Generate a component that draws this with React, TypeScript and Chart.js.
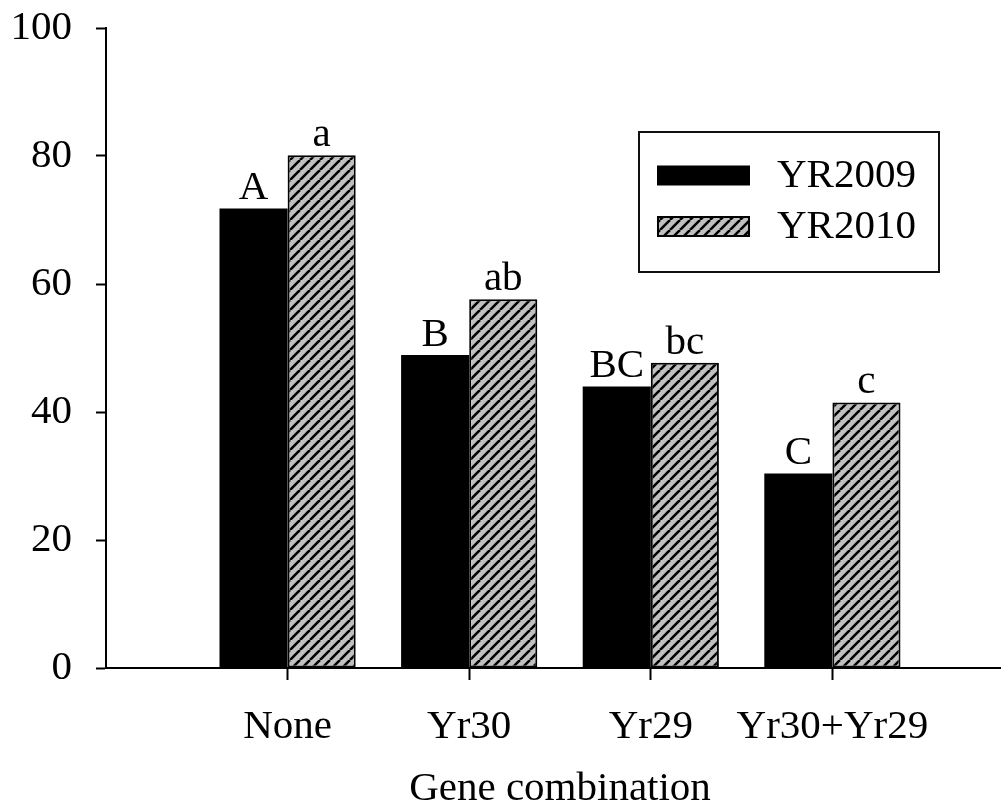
import { useEffect, useRef } from 'react';
import { Chart, registerables } from 'chart.js';
Chart.register(...registerables);

const categories = ['None', 'Yr30', 'Yr29', 'Yr30+Yr29'];
const yr2009 = [71.8, 48.9, 44.0, 30.4];
const yr2010 = [80.1, 57.6, 47.7, 41.5];
const letters2009 = ['A', 'B', 'BC', 'C'];
const letters2010 = ['a', 'ab', 'bc', 'c'];
const seriesNames = ['YR2009', 'YR2010'];
const yMin = 0;
const yMax = 100;
const yStep = 20;
const xTitle = 'Gene combination';

const FONT = '"Liberation Serif", "Times New Roman", serif';
const FS = 41;

function makeHatch(): CanvasPattern | string {
  const size = 10;
  const c = document.createElement('canvas');
  c.width = size;
  c.height = size;
  const g = c.getContext('2d');
  if (!g) return '#c0c0c0';
  g.fillStyle = '#c0c0c0';
  g.fillRect(0, 0, size, size);
  g.strokeStyle = '#000';
  g.lineWidth = 2.6;
  g.beginPath();
  for (const k of [-1, 0, 1]) {
    g.moveTo(k * size, size);
    g.lineTo(k * size + size, 0);
  }
  g.stroke();
  const p = g.createPattern(c, 'repeat');
  return p || '#c0c0c0';
}

export default function App() {
  const ref = useRef<HTMLCanvasElement | null>(null);
  useEffect(() => {
    if (!ref.current) return;
    const hatch = makeHatch();
    const labels = ['', ...categories, ''];
    const letterPlugin = {
      id: 'letters',
      afterDatasetsDraw(chart: any) {
        const ctx = chart.ctx;
        ctx.save();
        ctx.font = `${FS}px ${FONT}`;
        ctx.fillStyle = '#000';
        ctx.textAlign = 'center';
        ctx.textBaseline = 'alphabetic';
        [letters2009, letters2010].forEach((letters, di) => {
          const meta = chart.getDatasetMeta(di);
          letters.forEach((t, i) => {
            const el = meta.data[i + 1];
            if (el) ctx.fillText(t, el.x, el.y - 9);
          });
        });
        ctx.restore();
      },
    };
    const legendPlugin = {
      id: 'boxLegend',
      afterDraw(chart: any) {
        const ctx = chart.ctx;
        const ds = chart.data.datasets;
        ctx.save();
        ctx.lineWidth = 2;
        ctx.strokeStyle = '#111';
        ctx.strokeRect(639, 132, 300, 140);
        const rows = [175.5, 226.5];
        rows.forEach((cy, i) => {
          ctx.fillStyle = ds[i].backgroundColor;
          ctx.fillRect(657, cy - 10, 93, 20);
          if (i === 1) {
            ctx.lineWidth = 2;
            ctx.strokeStyle = '#000';
            ctx.strokeRect(658, cy - 9.5, 91, 19);
          }
          ctx.fillStyle = '#000';
          ctx.font = `${FS}px ${FONT}`;
          ctx.textAlign = 'left';
          ctx.textBaseline = 'middle';
          ctx.fillText(ds[i].label, 777, cy + 1);
        });
        ctx.restore();
      },
    };
    const chart = new Chart(ref.current, {
      type: 'bar',
      data: {
        labels,
        datasets: [
          {
            label: seriesNames[0],
            data: [null, ...yr2009, null],
            backgroundColor: '#000',
            borderWidth: 0,
            categoryPercentage: 0.75,
            barPercentage: 1.0,
          },
          {
            label: seriesNames[1],
            data: [null, ...yr2010, null],
            backgroundColor: hatch as any,
            borderColor: '#000',
            borderWidth: 2,
            borderSkipped: false,
            categoryPercentage: 0.75,
            barPercentage: 1.0,
          },
        ],
      },
      options: {
        animation: false,
        responsive: false,
        maintainAspectRatio: false,
        layout: { padding: { top: 28, left: 0, right: 0, bottom: 0 } },
        plugins: {
          legend: { display: false },
          tooltip: { enabled: false },
          title: { display: false },
        },
        scales: {
          x: {
            type: 'category',
            offset: false,
            grid: {
              offset: false,
              drawOnChartArea: false,
              drawTicks: true,
              tickLength: 12,
              tickWidth: 2,
              tickColor: (c: any) => (c.index === 0 || c.index === labels.length - 1 ? 'rgba(0,0,0,0)' : '#000'),
            },
            border: { display: true, color: '#000', width: 2 },
            ticks: {
              color: '#000',
              font: { family: FONT, size: FS },
              padding: 23,
              maxRotation: 0,
              autoSkip: false,
            },
            title: {
              display: true,
              text: xTitle,
              color: '#000',
              font: { family: FONT, size: FS, lineHeight: 0.9 },
              padding: { top: 0, bottom: 0 },
            },
            afterFit: (s: any) => {
              s.height = 140;
              s.paddingLeft = 0;
              s.paddingRight = 0;
            },
          },
          y: {
            min: yMin,
            max: yMax,
            ticks: {
              stepSize: yStep,
              color: '#000',
              font: { family: FONT, size: FS },
              padding: 24,
            },
            grid: {
              drawOnChartArea: false,
              drawTicks: true,
              tickLength: 10,
              tickWidth: 2,
              tickColor: '#000',
            },
            border: { display: true, color: '#000', width: 2 },
            afterFit: (s: any) => {
              s.width = 106;
              s.paddingTop = 0;
              s.paddingBottom = 0;
            },
          },
        },
      },
      plugins: [letterPlugin, legendPlugin],
    } as any);
    return () => chart.destroy();
  }, []);
  return (
    <div style={{ position: 'fixed', left: 0, top: 0, width: 1001, height: 808, overflow: 'hidden', background: '#fff' }}>
      <canvas ref={ref} width={1014} height={808} style={{ display: 'block', width: 1014, height: 808 }} />
    </div>
  );
}
